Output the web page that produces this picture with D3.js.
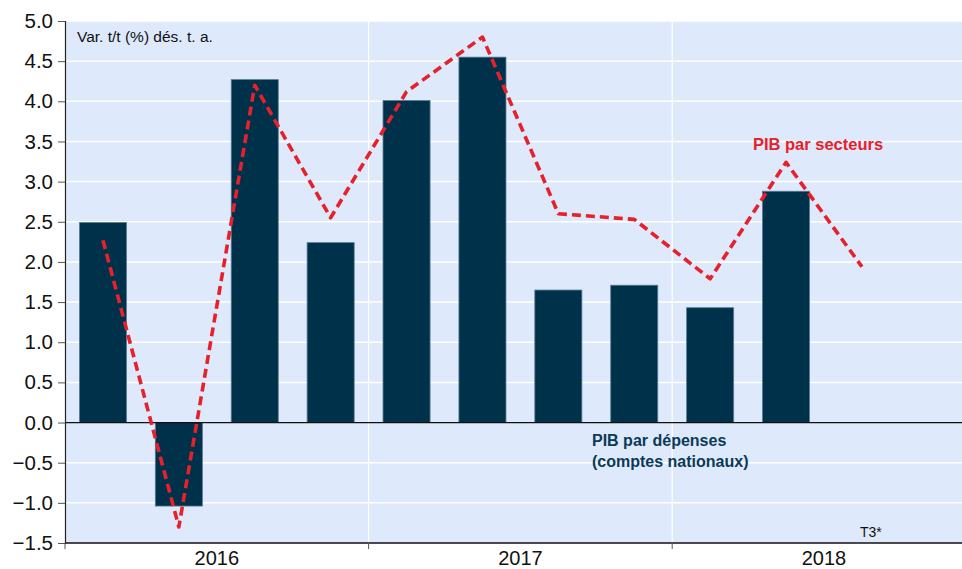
<!DOCTYPE html>
<html lang="fr">
<head>
<meta charset="UTF-8">
<title>PIB par dépenses et par secteurs</title>
<script src="https://d3js.org/d3.v7.min.js"></script>
<style>
  body { margin: 0; background: #fff; }
  svg { display: block; font-family: "Liberation Sans", Arial, sans-serif; }
</style>
</head>
<body>
<svg width="962" height="569"></svg>
<script>
// quarters 2016 T1 .. 2018 T4
var quarters = ["T1 2016", "T2 2016", "T3 2016", "T4 2016",
                "T1 2017", "T2 2017", "T3 2017", "T4 2017",
                "T1 2018", "T2 2018", "T3 2018", "T4 2018"];
var years = ["2016", "2017", "2018"];
// PIB par dépenses (bars)
var depenses = [2.49, -1.04, 4.27, 2.24, 4.01, 4.55, 1.65, 1.71, 1.43, 2.88];
// PIB par secteurs (dashed line)
var secteurs = [2.27, -1.30, 4.20, 2.55, 4.12, 4.80, 2.60, 2.53, 1.79, 3.24, 1.94];
var yTicks = [-1.5, -1.0, -0.5, 0.0, 0.5, 1.0, 1.5, 2.0, 2.5, 3.0, 3.5, 4.0, 4.5, 5.0];

var plotLeft = 65, plotRight = 65 + 12 * 75.9, plotTop = 21, plotBottom = 543;

var svg = d3.select("svg");

var x = d3.scaleBand()
    .domain(quarters)
    .range([plotLeft, plotRight])
    .paddingInner(0.38)
    .paddingOuter(0.19);

var xYear = d3.scaleBand()
    .domain(years)
    .range([plotLeft, plotRight]);

var y = d3.scaleLinear()
    .domain([-1.5, 5])
    .range([plotBottom, plotTop]);

// background
svg.append("rect")
    .attr("x", plotLeft).attr("y", plotTop)
    .attr("width", plotRight - plotLeft).attr("height", plotBottom - plotTop)
    .attr("fill", "#deeafb");

// horizontal grid
svg.append("g")
    .selectAll("line")
    .data(yTicks.filter(function(d) { return d !== 0 && d !== -1.5; }))
    .enter().append("line")
    .attr("x1", plotLeft).attr("x2", plotRight)
    .attr("y1", function(d) { return y(d); })
    .attr("y2", function(d) { return y(d); })
    .attr("stroke", "#fff")
    .attr("stroke-width", 1.5);

// vertical year grid
svg.append("g")
    .selectAll("line")
    .data(years.slice(1))
    .enter().append("line")
    .attr("x1", function(d) { return xYear(d); })
    .attr("x2", function(d) { return xYear(d); })
    .attr("y1", plotTop).attr("y2", plotBottom)
    .attr("stroke", "#fff")
    .attr("stroke-width", 1.2);

// bars
svg.append("g")
    .selectAll("rect")
    .data(depenses)
    .enter().append("rect")
    .attr("x", function(d, i) { return x(quarters[i]); })
    .attr("width", x.bandwidth())
    .attr("y", function(d) { return y(Math.max(0, d)); })
    .attr("height", function(d) { return Math.abs(y(d) - y(0)); })
    .attr("fill", "#00314b")
    .attr("stroke", "#5b7c94")
    .attr("stroke-width", 0.8);

// zero line
svg.append("line")
    .attr("x1", plotLeft).attr("x2", plotRight)
    .attr("y1", y(0)).attr("y2", y(0))
    .attr("stroke", "#111")
    .attr("stroke-width", 1.2);

// dashed line
var line = d3.line()
    .x(function(d, i) { return x(quarters[i]) + x.bandwidth() / 2; })
    .y(function(d) { return y(d); });

svg.append("path")
    .datum(secteurs)
    .attr("d", line)
    .attr("fill", "none")
    .attr("stroke", "#e6212b")
    .attr("stroke-width", 3.6)
    .attr("stroke-dasharray", "9,5")
    .attr("stroke-linejoin", "round");

// y axis
var yAxis = svg.append("g")
    .attr("transform", "translate(" + plotLeft + ",0)")
    .call(d3.axisLeft(y).tickValues(yTicks).tickFormat(d3.format(".1f")).tickSize(7).tickPadding(5));
yAxis.select(".domain").attr("stroke", "#222").attr("stroke-width", 1.2);
yAxis.selectAll(".tick line").attr("stroke", "#555");
yAxis.selectAll(".tick text")
    .attr("font-size", "20.5px")
    .attr("font-family", "Liberation Sans, Arial, sans-serif")
    .attr("fill", "#111")
    .attr("x", -12);

// x axis line
svg.append("line")
    .attr("x1", plotLeft).attr("x2", plotRight)
    .attr("y1", plotBottom).attr("y2", plotBottom)
    .attr("stroke", "#111")
    .attr("stroke-width", 1.5);

// year ticks at boundaries
svg.append("g")
    .selectAll("line")
    .data(years)
    .enter().append("line")
    .attr("x1", function(d) { return xYear(d); })
    .attr("x2", function(d) { return xYear(d); })
    .attr("y1", plotBottom).attr("y2", plotBottom + 6)
    .attr("stroke", "#555");

// year labels
svg.append("g")
    .selectAll("text")
    .data(years)
    .enter().append("text")
    .attr("x", function(d) { return xYear(d) + xYear.bandwidth() / 2; })
    .attr("y", 565)
    .attr("text-anchor", "middle")
    .attr("font-size", "20px")
    .attr("fill", "#111")
    .text(function(d) { return d; });

// annotations
svg.append("text")
    .attr("x", 77).attr("y", 42)
    .attr("font-size", "15.5px")
    .attr("fill", "#111")
    .text("Var. t/t (%) dés. t. a.");

svg.append("text")
    .attr("x", 818).attr("y", 150)
    .attr("text-anchor", "middle")
    .attr("font-size", "16.5px")
    .attr("font-weight", "bold")
    .attr("fill", "#e6212b")
    .text("PIB par secteurs");

var dep = svg.append("text")
    .attr("x", 592).attr("y", 446)
    .attr("font-size", "16px")
    .attr("font-weight", "bold")
    .attr("fill", "#0b3a57");
dep.append("tspan").attr("x", 592).text("PIB par dépenses");
dep.append("tspan").attr("x", 592).attr("dy", 21).text("(comptes nationaux)");

svg.append("text")
    .attr("x", 860).attr("y", 537)
    .attr("font-size", "14px")
    .attr("fill", "#111")
    .text("T3*");
</script>
</body>
</html>
